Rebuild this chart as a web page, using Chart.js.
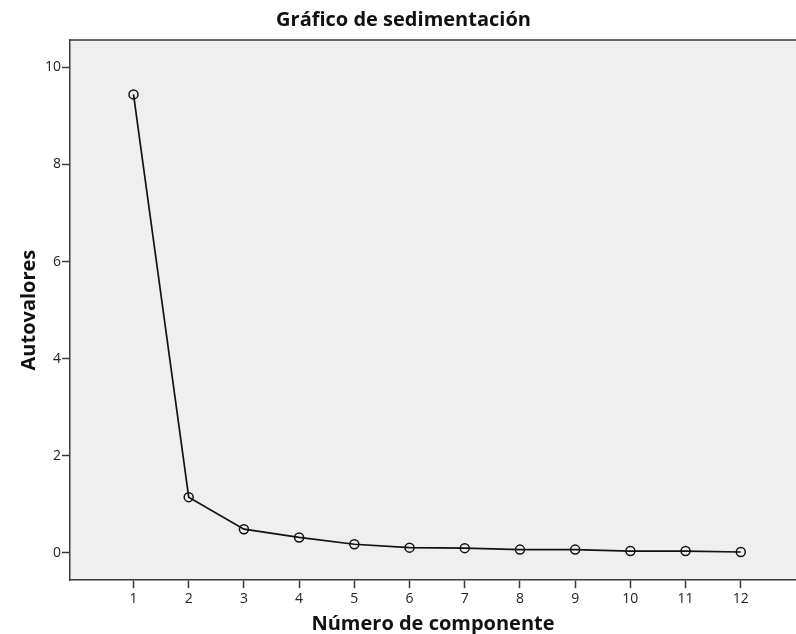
<!DOCTYPE html>
<html>
<head>
<meta charset="utf-8">
<script src="https://cdn.jsdelivr.net/npm/chart.js@4/dist/chart.umd.min.js"></script>
<style>
  html, body { margin: 0; padding: 0; background: #fff; }
  #wrap { width: 796px; height: 634px; }
</style>
</head>
<body>
<div id="wrap"><canvas id="screeChart" width="796" height="634"></canvas></div>
<script>
// scree plot values
const components = [1, 2, 3, 4, 5, 6, 7, 8, 9, 10, 11, 12];
const eigenvalues = [9.44, 1.15, 0.49, 0.32, 0.18, 0.11, 0.10, 0.07, 0.07, 0.04, 0.04, 0.02];
const yTicks = [0, 2, 4, 6, 8, 10];

const axisColor = '#3a3a3a';
const fontFamily = "'Open Sans', 'DejaVu Sans', sans-serif";

// grey plot background and the top frame line
const plotBackground = {
    id: 'plotBackground',
    beforeDraw(chart) {
        const { ctx, chartArea } = chart;
        ctx.save();
        ctx.fillStyle = '#efefef';
        ctx.fillRect(chartArea.left, chartArea.top, chartArea.right - chartArea.left, chartArea.bottom - chartArea.top);
        ctx.restore();
    },
    afterDraw(chart) {
        const { ctx, chartArea } = chart;
        ctx.save();
        ctx.strokeStyle = axisColor;
        ctx.lineWidth = 1.5;
        ctx.beginPath();
        ctx.moveTo(chartArea.left, chartArea.top);
        ctx.lineTo(chartArea.right, chartArea.top);
        ctx.stroke();
        ctx.restore();
    }
};

new Chart(document.getElementById('screeChart'), {
    type: 'line',
    data: {
        datasets: [{
            data: components.map((c, i) => ({ x: c, y: eigenvalues[i] })),
            borderColor: '#111',
            borderWidth: 1.7,
            pointRadius: 4.5,
            pointBorderWidth: 1.5,
            pointBorderColor: '#111',
            pointBackgroundColor: 'rgba(0,0,0,0)',
            tension: 0
        }]
    },
    options: {
        responsive: false,
        animation: false,
        layout: { autoPadding: false, padding: { top: 0, right: 0, bottom: 0, left: 11 } },
        plugins: {
            legend: { display: false },
            tooltip: { enabled: false },
            title: {
                display: true,
                text: 'Gráfico de sedimentación',
                color: '#111',
                font: { family: fontFamily, size: 20, weight: 'bold' },
                padding: { top: 8, bottom: 8 }
            }
        },
        scales: {
            x: {
                type: 'linear',
                min: -0.15,
                max: 13,
                afterBuildTicks: axis => { axis.ticks = components.map(v => ({ value: v })); },
                grid: { drawOnChartArea: false, tickLength: 8, tickColor: axisColor, tickWidth: 1.5 },
                border: { color: axisColor, width: 1.5 },
                ticks: { color: '#222', font: { family: fontFamily, size: 14 }, padding: 2, maxRotation: 0 },
                title: {
                    display: true,
                    text: 'Número de componente',
                    color: '#111',
                    font: { family: fontFamily, size: 20, weight: 'bold', lineHeight: 1.0 },
                    padding: { top: 5, bottom: 0 }
                }
            },
            y: {
                min: -0.56,
                max: 10.56,
                afterBuildTicks: axis => { axis.ticks = yTicks.map(v => ({ value: v })); },
                grid: { drawOnChartArea: false, tickLength: 8, tickColor: axisColor, tickWidth: 1.5 },
                border: { color: axisColor, width: 1.5 },
                ticks: { color: '#222', font: { family: fontFamily, size: 14 }, padding: 1 },
                title: {
                    display: true,
                    text: 'Autovalores',
                    color: '#111',
                    font: { family: fontFamily, size: 20, weight: 'bold' },
                    padding: { top: 6, bottom: 3 }
                }
            }
        }
    },
    plugins: [plotBackground]
});
</script>
</body>
</html>
